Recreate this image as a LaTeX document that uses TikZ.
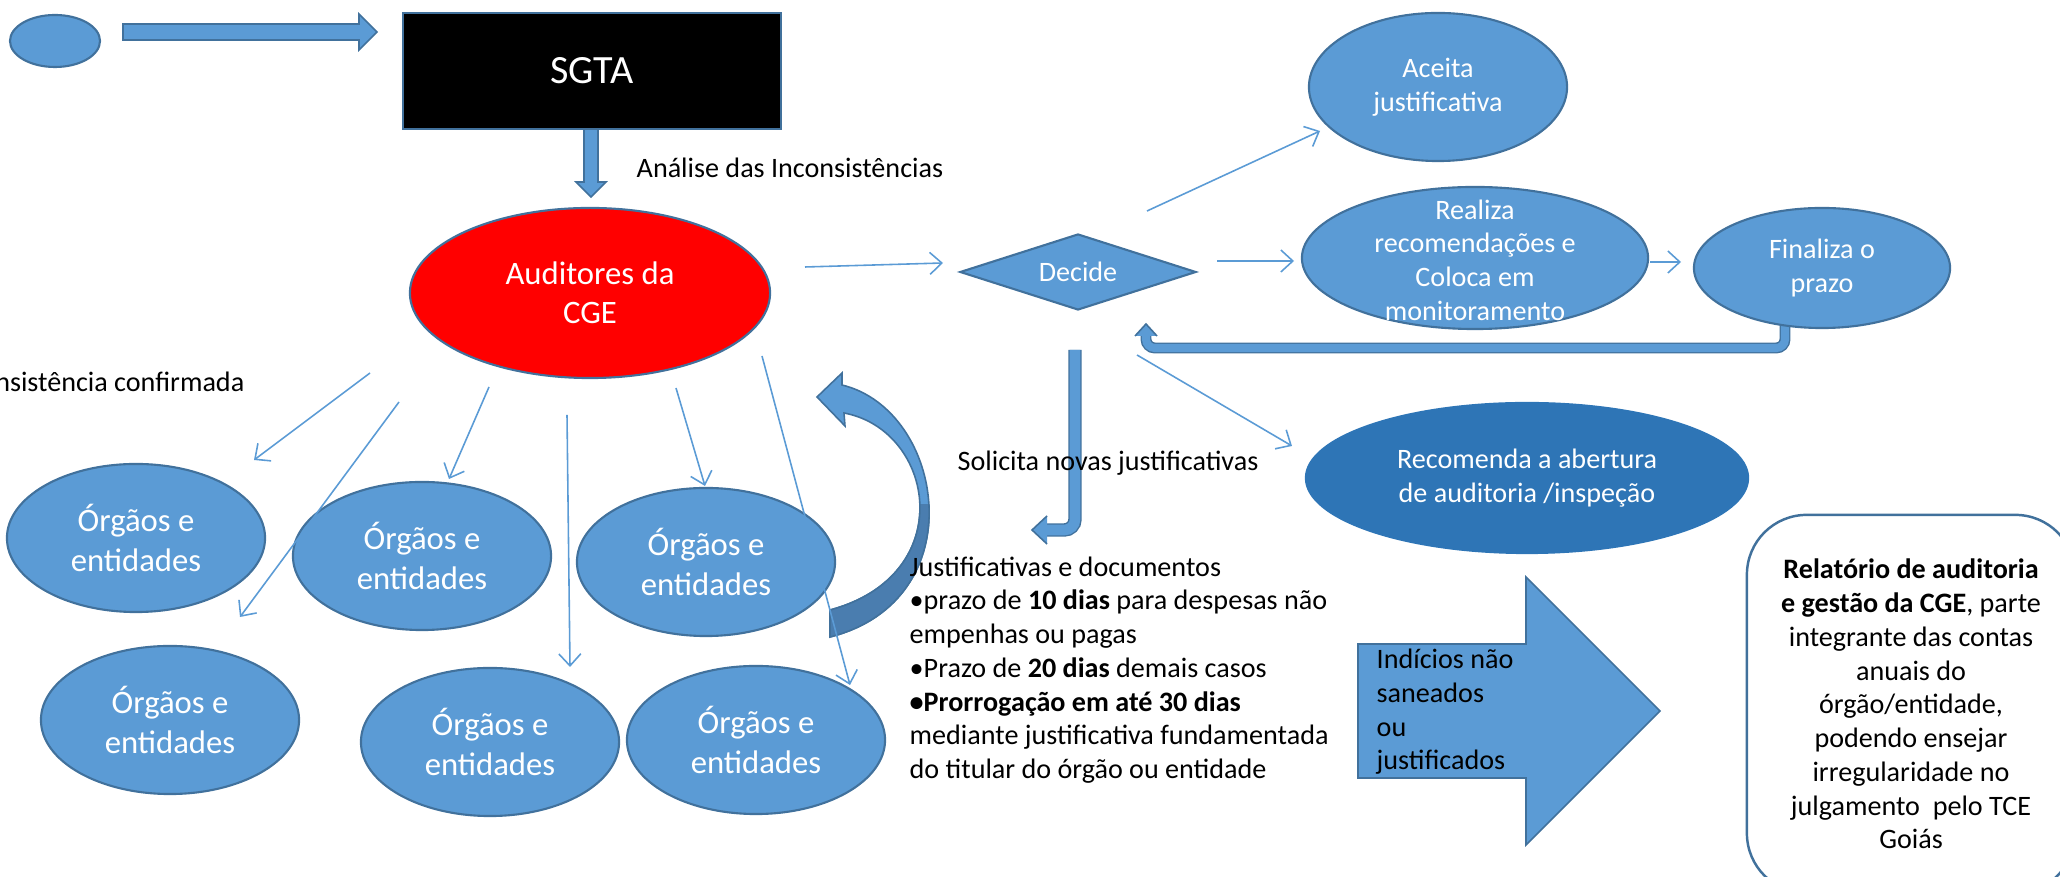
\documentclass[tikz,border=0pt]{standalone}
\usepackage{fontspec}
\setmainfont{Carlito}
\usepackage{xcolor}
\usetikzlibrary{positioning, shapes.geometric, arrows.meta, calc}

\definecolor{boxblue}{HTML}{5B9BD5}
\definecolor{edgeblue}{HTML}{41719C}
\definecolor{deepblue}{HTML}{2E75B6}
\definecolor{bandblue}{HTML}{4A7DAF}

\newcommand{\stdfont}{\fontsize{8}{9.6}\selectfont}
\newcommand{\bigfont}{\fontsize{9.3}{11.2}\selectfont}
\newcommand{\titlefont}{\fontsize{11.4}{13}\selectfont}

\tikzset{
  blob/.style={ellipse, draw=edgeblue, fill=boxblue, line width=0.6pt, inner sep=0pt,
    text=white, align=center, font=\stdfont},
  orgao/.style={blob, minimum width=2.58cm, minimum height=1.48cm, font=\bigfont},
  wtext/.style={inner sep=0pt, text=white, align=center, font=\stdfont},
  txt/.style={inner sep=0pt, align=left, font=\stdfont},
  arr/.style={draw=boxblue, line width=0.45pt, -{Straight Barb[length=1.2mm, width=2.2mm]}},
  blockarrow/.style={fill=boxblue, draw=edgeblue, line width=0.45pt},
  bentarrow/.style={draw=edgeblue, double=boxblue, line width=0.4pt},
}

\begin{document}
\begin{tikzpicture}[x=0.01cm, y=-0.01cm]
  \useasboundingbox (0,0) rectangle (2060,877);
  \clip (0,0) rectangle (2060,877);

  % top row
  \node[blob, minimum width=0.9cm, minimum height=0.52cm] (dot) at (55,41) {};
  \filldraw[blockarrow] (123,24) -- (359,24) -- (359,14) -- (377,32) -- (359,50) -- (359,40) -- (123,40) -- cycle;
  \node[fill=black, draw=edgeblue, line width=0.6pt, minimum width=3.78cm, minimum height=1.16cm,
    text=white, font=\titlefont] (sgta) at (592,71) {SGTA};
  \filldraw[blockarrow] (584,129) -- (598,129) -- (598,182) -- (606,182) -- (591,197) -- (576,182) -- (584,182) -- cycle;
  \node[txt, anchor=west] (analise) at (636,168) {Análise das Inconsistências};

  % auditores and decision
  \node[blob, fill=red, minimum width=3.6cm, minimum height=1.7cm, font=\bigfont] (aud) at (590,293) {Auditores da\\CGE};
  \node[diamond, draw=edgeblue, fill=boxblue, line width=0.6pt, inner sep=0pt, aspect=3.1,
    minimum width=2.36cm, minimum height=0.76cm, text=white, font=\stdfont] (dec) at (1078,272) {Decide};

  % bent arrows
  \draw[bentarrow, double distance=2.3pt, rounded corners=2.5pt] (1785,315) -- (1785,348) -- (1146,348) -- (1146,334);
  \filldraw[blockarrow] (1135,336) -- (1146,324) -- (1157,336);
  \draw[bentarrow, double distance=3pt, rounded corners=3pt] (1075,350) -- (1075,530) -- (1046,530);
  \filldraw[blockarrow] (1047,516) -- (1032,530) -- (1047,544);

  % curved return arrow
  \filldraw[fill=boxblue, draw=edgeblue, line width=0.45pt] (842,385) .. controls (945,410) and (975,600) .. (830,637)
    -- (830,610) .. controls (960,575) and (935,430) .. (844,413) -- (845,426) -- (817,397) -- (842,373) -- cycle;
  \begin{scope}
    \clip (800,505) rectangle (1000,700);
    \filldraw[fill=bandblue, draw=edgeblue, line width=0.45pt] (842,385) .. controls (945,410) and (975,600) .. (830,637)
      -- (830,610) .. controls (960,575) and (935,430) .. (844,413) -- (845,426) -- (817,397) -- (842,373) -- cycle;
  \end{scope}

  % right side
  \node[blob, minimum width=2.58cm, minimum height=1.48cm] (aceita) at (1438,87) {Aceita\\justificativa};
  \node[blob, minimum width=3.46cm, minimum height=1.42cm] (realiza) at (1475,258) {};
  \node[wtext] (realizaT) at (1475,260) {Realiza\\recomendações e\\Coloca em\\monitoramento};
  \node[blob, minimum width=2.56cm, minimum height=1.2cm] (finaliza) at (1822,268) {Finaliza o\\prazo};
  \node[blob, fill=deepblue, draw=deepblue, minimum width=4.42cm, minimum height=1.5cm] (recom) at (1527,478)
    {Recomenda a abertura\\de auditoria /inspeção};
  \node[txt] (solicita) at (1108,463) {Solicita novas justificativas};

  % orgaos
  \node[orgao] (org1) at (136,538) {Órgãos e\\entidades};
  \node[orgao] (org2) at (422,556) {Órgãos e\\entidades};
  \node[orgao] (org3) at (706,562) {Órgãos e\\entidades};
  \node[orgao] (org4) at (170,720) {Órgãos e\\entidades};
  \node[orgao] (org5) at (490,742) {Órgãos e\\entidades};
  \node[orgao] (org6) at (756,740) {Órgãos e\\entidades};
  \node[txt, anchor=east] (confirmada) at (245,382) {Inconsistência confirmada};

  % prazos
  \node[txt, anchor=west] (prazos) at (909,670) {Justificativas e documentos\\
    •prazo de \textbf{10 dias} para despesas não\\
    empenhas ou pagas\\
    •Prazo de \textbf{20 dias} demais casos\\
    \textbf{•Prorrogação em até 30 dias}\\
    mediante justificativa fundamentada\\
    do titular do órgão ou entidade};

  % indicios
  \filldraw[blockarrow] (1358,644) -- (1526,644) -- (1526,577) -- (1660,711) -- (1526,845) -- (1526,778) -- (1358,778) -- cycle;
  \node[txt, anchor=west] (indicios) at (1376,712) {Indícios não\\saneados\\ou\\justificados};

  \node[draw=edgeblue, fill=white, line width=0.7pt, rounded corners=17pt, minimum width=3.28cm,
    minimum height=3.78cm, align=center, font=\stdfont, fill=white] (rel) at (1911,704)
    {\textbf{Relatório de auditoria}\\\textbf{e gestão da CGE}, parte\\integrante das contas\\anuais do\\órgão/entidade,\\podendo ensejar\\irregularidade no\\julgamento\ \ pelo TCE\\Goiás};

  % thin connectors
  \coordinate (c1a) at (805,267); \coordinate (c1b) at (943,263);
  \coordinate (c2a) at (1147,211); \coordinate (c2b) at (1320,131);
  \coordinate (c3a) at (1217,261); \coordinate (c3b) at (1294,261);
  \coordinate (c4a) at (1650,262); \coordinate (c4b) at (1681,262);
  \coordinate (c5a) at (1137,355); \coordinate (c5b) at (1292,446);
  \coordinate (o1a) at (370,373); \coordinate (o1b) at (254,460);
  \coordinate (o2a) at (399,402); \coordinate (o2b) at (240,617);
  \coordinate (o3a) at (489,387); \coordinate (o3b) at (449,479);
  \coordinate (o4a) at (567,415); \coordinate (o4b) at (570,667);
  \coordinate (o5a) at (676,388); \coordinate (o5b) at (705,486);
  \coordinate (o6a) at (762,356); \coordinate (o6b) at (850,685);
  \draw[arr] (c1a) -- (c1b);
  \draw[arr] (c2a) -- (c2b);
  \draw[arr] (c3a) -- (c3b);
  \draw[arr] (c4a) -- (c4b);
  \draw[arr] (c5a) -- (c5b);
  \draw[arr] (o1a) -- (o1b);
  \draw[arr] (o2a) -- (o2b);
  \draw[arr] (o3a) -- (o3b);
  \draw[arr] (o4a) -- (o4b);
  \draw[arr] (o5a) -- (o5b);
  \draw[arr] (o6a) -- (o6b);
\end{tikzpicture}
\end{document}
